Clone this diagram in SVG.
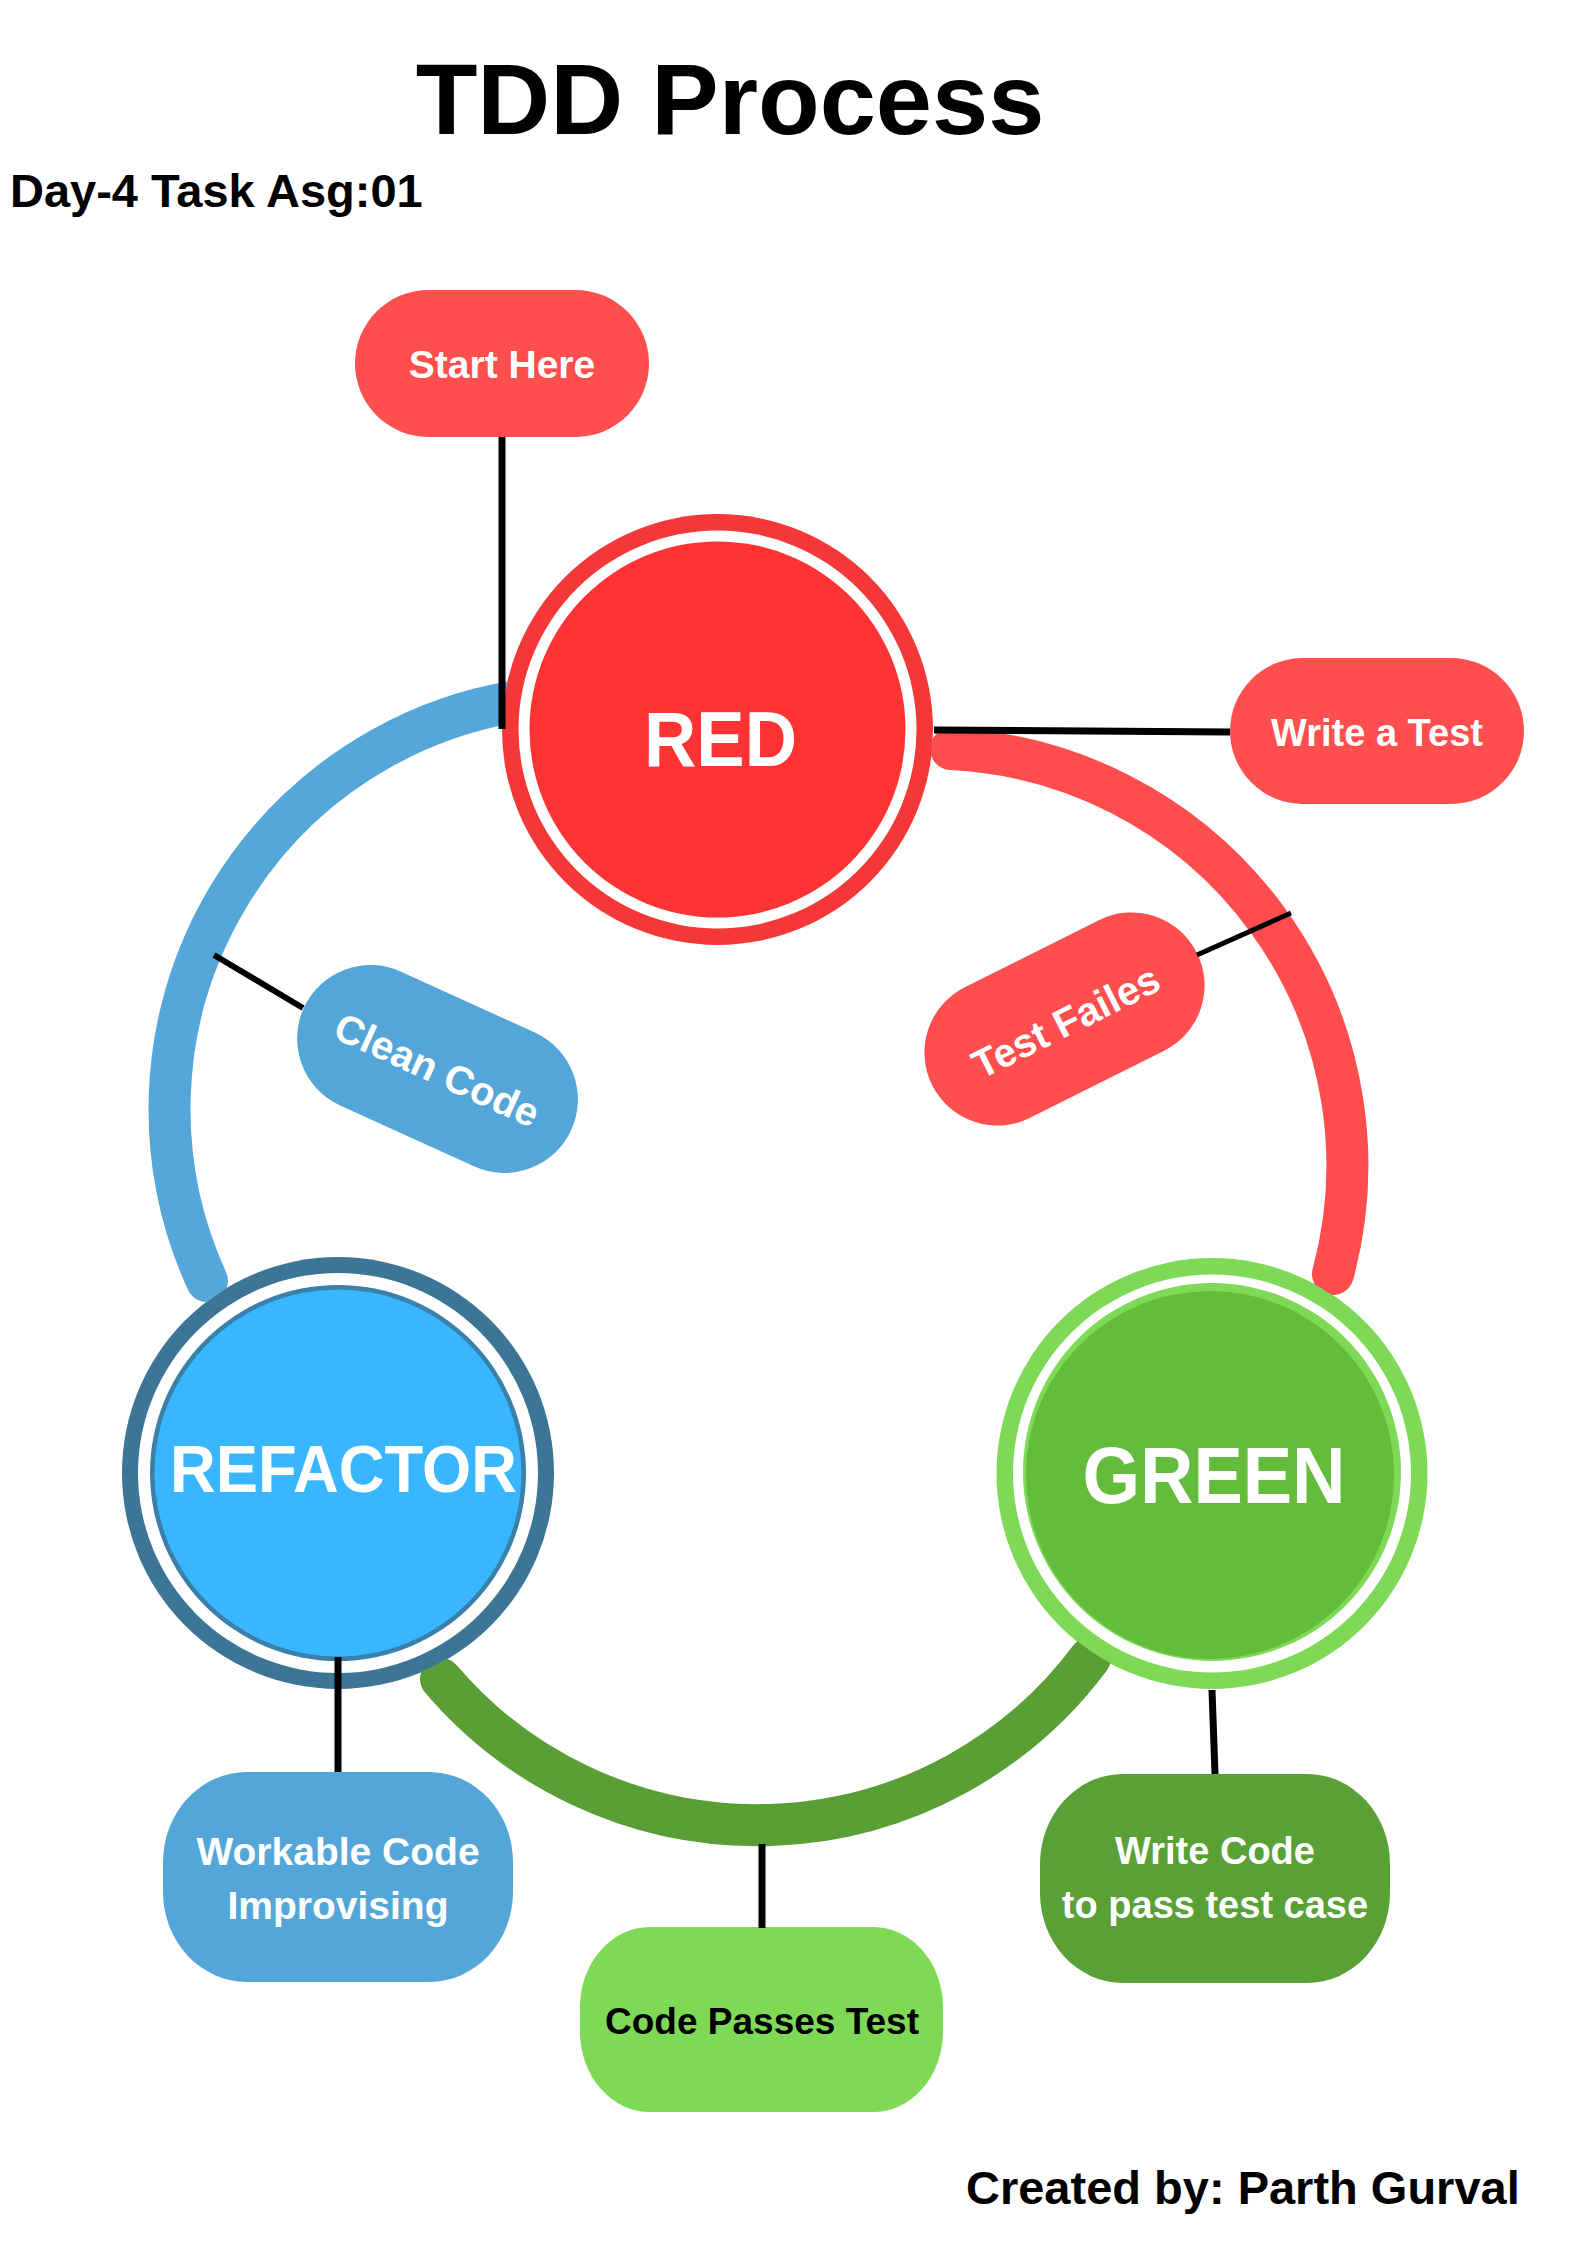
<svg xmlns="http://www.w3.org/2000/svg" width="1587" height="2245" viewBox="0 0 1587 2245">
<defs>
<style>
text{font-family:"Liberation Sans",Arial,sans-serif;font-weight:700}
.w{fill:#fff}
.k{fill:#000}
.ld{stroke:#000;stroke-width:7;fill:none}
.lt{stroke:#000;stroke-width:5;fill:none}
.arc{fill:none;stroke-width:42;stroke-linecap:round}
.pr{fill:#FF4E4E}
.pb{fill:#55A6D8}
</style>
<mask id="holes" maskUnits="userSpaceOnUse" x="0" y="0" width="1587" height="2245">
<rect width="1587" height="2245" fill="#fff"/>
<circle cx="717.5" cy="729.5" r="215" fill="#000"/>
<circle cx="1212" cy="1473.5" r="215" fill="#000"/>
<circle cx="338" cy="1473" r="215.5" fill="#000"/>
</mask>
</defs>
<rect width="1587" height="2245" fill="#fff"/>

<g id="title">
<text class="k" x="730" y="134" font-size="101" text-anchor="middle">TDD Process</text>
<text class="k" x="10" y="207" font-size="47">Day-4 Task Asg:01</text>
<text class="k" x="966" y="2204" font-size="47">Created by: Parth Gurval</text>
</g>

<g id="node-red">
<circle cx="717.5" cy="729.5" r="215.5" fill="#F43838"/>
<circle cx="717.5" cy="729.5" r="199" fill="#fff"/>
<circle cx="717.5" cy="729.5" r="188" fill="#FF3333"/>
<text class="w" x="720.5" y="766" font-size="78" text-anchor="middle" textLength="153" lengthAdjust="spacingAndGlyphs">RED</text>
</g>

<g id="node-green">
<circle cx="1212" cy="1473.5" r="215.5" fill="#7ED957"/>
<circle cx="1212" cy="1473.5" r="199" fill="#fff"/>
<circle cx="1212" cy="1472" r="189" fill="#7ED957"/>
<circle cx="1210" cy="1475" r="184" fill="#63BC3C"/>
<text class="w" x="1214" y="1503" font-size="80" text-anchor="middle" textLength="263" lengthAdjust="spacingAndGlyphs">GREEN</text>
</g>

<g id="node-refactor">
<circle cx="338" cy="1473" r="216" fill="#3D7597"/>
<circle cx="338" cy="1473" r="200" fill="#fff"/>
<circle cx="338" cy="1473" r="188" fill="#3B80AA"/>
<circle cx="338" cy="1473" r="183.5" fill="#38B6FF"/>
<text class="w" x="343.5" y="1492" font-size="66" text-anchor="middle" textLength="347" lengthAdjust="spacingAndGlyphs">REFACTOR</text>
</g>

<g id="label-start-here">
<rect class="pr" x="355" y="290" width="294" height="147" rx="73.5"/>
<text class="w" x="502" y="378" font-size="39" text-anchor="middle">Start Here</text>
</g>

<g id="label-write-a-test">
<rect class="pr" x="1230" y="658" width="294" height="146" rx="73"/>
<text class="w" x="1377" y="746" font-size="38" text-anchor="middle">Write a Test</text>
</g>

<g id="label-test-failes" transform="rotate(-26.6 1064.5 1019)">
<rect class="pr" x="916.5" y="946" width="296" height="146" rx="73"/>
<text class="w" x="1064.5" y="1036" font-size="40" text-anchor="middle">Test Failes</text>
</g>

<g id="label-clean-code" transform="rotate(24.5 437.5 1069)">
<rect class="pb" x="290.5" y="995.5" width="294" height="147" rx="73.5"/>
<text class="w" x="437.5" y="1084" font-size="40" text-anchor="middle">Clean Code</text>
</g>

<g id="label-workable-code">
<rect class="pb" x="163" y="1772" width="350" height="210" rx="84" ry="90"/>
<text class="w" x="338" y="1865" font-size="39" text-anchor="middle">Workable Code</text>
<text class="w" x="338" y="1919" font-size="39" text-anchor="middle">Improvising</text>
</g>

<g id="label-code-passes-test">
<rect x="580" y="1927" width="363" height="185" rx="70" ry="80" fill="#7ED957"/>
<text class="k" x="762" y="2034" font-size="37" text-anchor="middle">Code Passes Test</text>
</g>

<g id="label-write-code">
<rect x="1040" y="1774" width="350" height="209" rx="83" ry="90" fill="#59A036"/>
<text class="w" x="1215" y="1864" font-size="38" text-anchor="middle">Write Code</text>
<text class="w" x="1215" y="1918" font-size="38" text-anchor="middle">to pass test case</text>
</g>

<g id="connectors">
<g mask="url(#holes)">
<path class="arc" stroke="#55A7DA" d="M560 696.7 A413 413 0 0 0 207 1281"/>
<path class="arc" stroke="#FF4D4D" d="M951 749 A417 417 0 0 1 1333 1274"/>
<path class="arc" stroke="#599F36" d="M441 1679 A415 415 0 0 0 1090 1658"/>
</g>
<path class="ld" d="M502 437 V729"/>
<path class="ld" d="M934 730 L1230 732"/>
<path class="lt" d="M1197 955 L1291 913"/>
<path class="lt" d="M214 955 L303 1008" style="stroke-width:6"/>
<path class="ld" d="M338 1657 V1772"/>
<path class="ld" d="M1212 1690 L1215 1774"/>
<path class="ld" d="M762 1844 V1928"/>
</g>
</svg>
